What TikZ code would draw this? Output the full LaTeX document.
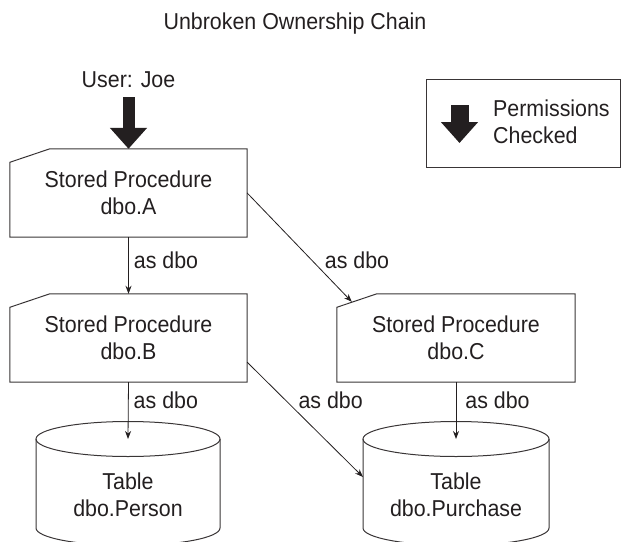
\documentclass[tikz,border=0pt]{standalone}
\usepackage{fontspec}
\setmainfont{Liberation Sans}[FakeStretch=0.93]
\usepackage{tikz}
\usetikzlibrary{arrows.meta}
\definecolor{ChainInk}{RGB}{35,31,32}

\begin{document}
\begin{tikzpicture}[x=1pt,y=-1pt,font=\fontsize{23}{26.5}\selectfont,text=ChainInk,
    box/.style={draw=ChainInk!90,line width=1pt},
    proc/.style={minimum width=#1,minimum height=88pt,inner sep=0pt,align=center},
    flow/.style={draw=ChainInk,line width=0.8pt,-{Stealth[length=8pt,width=6pt]}},
    bigarrow/.style={draw=ChainInk,line width=#1,-{Triangle[length=21pt,width=36pt]}},
    lbl/.style={inner sep=0pt}]
    \useasboundingbox (0,0) rectangle (621,541);
    \clip (0,0) rectangle (621,541);
    \node[anchor=base] (title) at (295,29) {Unbroken Ownership Chain};
    % stored procedures
    \node[proc=237pt] (procA) at (128.5,193) {Stored Procedure\\dbo.A};
    \node[proc=237pt] (procB) at (128.5,338) {Stored Procedure\\dbo.B};
    \node[proc=238pt] (procC) at (456,338) {Stored Procedure\\dbo.C};
    \foreach \n in {procA,procB,procC} {
       \draw[box] (\n.north west) ++(0,13.5) -- ++(40,-13.5) -- (\n.north east)
          |- (\n.south west) -- cycle;
    }
    % tables
    \foreach \nm/\cx/\rx in %
    {tblPerson/128/92,tblPurchase/456/93} {
       \draw[box] (\cx-\rx,439) -- (\cx-\rx,528)
          arc[start angle=180,end angle=0,x radius=\rx,y radius=17.5] -- (\cx+\rx,439);
       \draw[box] (\cx,439) ellipse[x radius=\rx,y radius=17.5];
       \coordinate (\nm-top) at (\cx,439);
       \coordinate (\nm-side) at (\cx-\rx,477);
    }
    \node[align=center] (tblPerson) at (128,495) {Table\\dbo.Person};
    \node[align=center] (tblPurchase) at (456,495) {Table\\dbo.Purchase};
    % caller
    \node[inner ysep=9pt,inner xsep=0pt,anchor=south] (user) at (128.5,97) {User: Joe};
    \draw[bigarrow=12pt] (user.south) -- (procA.north);
    % legend
    \node[box,minimum width=194pt,minimum height=88pt] (legend) at (523,123) {};
    \draw[bigarrow=18pt] ([shift={(34,-18)}]legend.west) -- ([shift={(34,20)}]legend.west);
    \node[anchor=west,align=left,inner sep=0pt] (legText) at (493,122) {Permissions\\Checked};
    % ownership chain
    \coordinate (cutC) at ([shift={(15,8)}]procC.north west);
    \draw[flow] (procA.south) -- node[lbl,right=5pt,pos=0.41] {as dbo} (procB.north);
    \draw[flow] (procA.east) -- node[lbl,right=13pt,pos=0.615] {as dbo} (cutC);
    \draw[flow] (procB.south) -- node[lbl,right=5pt,pos=0.31] {as dbo} (tblPerson-top);
    \draw[flow] ([yshift=20pt]procB.south east) -- node[lbl,right=12pt,pos=0.336] {as dbo} (tblPurchase-side);
    \draw[flow] (procC.south) -- node[lbl,right=9pt,pos=0.31] {as dbo} (tblPurchase-top);
\end{tikzpicture}
\end{document}
